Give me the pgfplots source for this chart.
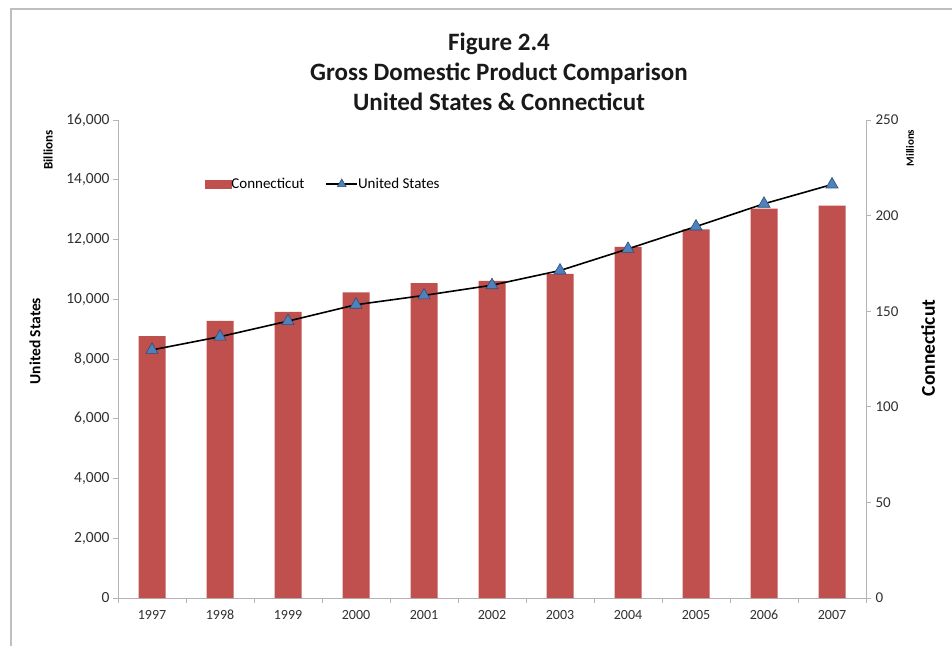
\documentclass[border=0pt]{standalone}
\usepackage{pgfplots}
\pgfplotsset{compat=1.18}
\usepackage{fontspec}
\setmainfont{Carlito}
\definecolor{ctred}{HTML}{C0504D}
\definecolor{usblue}{HTML}{4F81BD}
\definecolor{usedge}{HTML}{2C4D75}
\definecolor{axgray}{HTML}{B4B4B4}
\definecolor{txt}{HTML}{303030}

\pgfplotstableread{
x year ct
0 1997 137.0
1 1998 145.0
2 1999 149.7
3 2000 159.9
4 2001 164.7
5 2002 165.8
6 2003 169.5
7 2004 183.7
8 2005 192.8
9 2006 203.6
10 2007 205.2
}\ctdata

\pgfplotstableread{
x year us
0 1997 8304
1 1998 8747
2 1999 9268
3 2000 9817
4 2001 10128
5 2002 10470
6 2003 10961
7 2004 11686
8 2005 12434
9 2006 13195
10 2007 13841
}\usdata

\pgfplotsset{common/.style={
  scale only axis, width=748pt, height=478pt,
  at={(118pt,48pt)}, anchor=south west,
  xmin=-0.5, xmax=10.5,
  axis line style={axgray, line width=0.9pt},
  every tick/.style={axgray, line width=0.8pt},
  tick align=outside,
  major tick length=5pt, minor tick length=5pt,
  /pgf/number format/assume math mode=true,
  tick label style={text=txt},
  clip=false,
}}
\pgfplotsset{uslegend/.style={legend image code/.code={
    \draw[##1] (0pt,0pt) -- (31pt,0pt);
    \draw[##1, mark size=5pt] plot coordinates {(15.5pt,0pt)};}}}
\pgfplotsset{ctlegend/.style={legend image code/.code={
    \fill[ctred] (0pt,-4pt) rectangle (26pt,4pt);}}}

\begin{document}
\begin{tikzpicture}[x=1pt,y=1pt]
\path[use as bounding box] (0,0) rectangle (952,646);
\fill[white] (0,0) rectangle (952,646);
\draw[black!25, line width=1.5pt] (11,0) -- (11,637) -- (952,637);

\node[font=\fontsize{25}{30}\selectfont\bfseries, align=center, text=black!90] at (499,574)
  {Figure 2.4\\Gross Domestic Product Comparison\\United States \& Connecticut};

% Connecticut bars, right axis
\begin{axis}[common,
  ymin=0, ymax=250,
  axis y line*=right, axis x line*=bottom,
  ytick={0,50,...,250},
  yticklabel style={font=\fontsize{15}{18}\selectfont, xshift=1pt},
  xtick={0,...,10},
  xticklabels={1997,1998,1999,2000,2001,2002,2003,2004,2005,2006,2007},
  xticklabel style={font=\fontsize{14}{16}\selectfont, anchor=north,
    text height=10pt, text depth=0pt, yshift=-3pt},
  major x tick style={draw=none},
  minor xtick={-0.5,0.5,...,10.5},
]
\addplot[ybar, bar width=27pt, fill=ctred, draw=none] table[x=x, y=ct] {\ctdata};
\end{axis}

% United States line, left axis
\begin{axis}[common,
  ymin=0, ymax=16000,
  axis y line*=left, hide x axis,
  ytick={0,2000,...,16000},
  scaled y ticks=false,
  yticklabel style={font=\fontsize{15.5}{18}\selectfont,
    /pgf/number format/.cd, 1000 sep={,}},
  legend style={at={(0.112,0.866)}, anchor=west, draw=none, fill=none,
    legend columns=2, font=\fontsize{15}{18}\selectfont,
    /tikz/every even column/.append style={column sep=19pt},
    /tikz/every odd column/.append style={column sep=-2pt}},
  legend cell align=left,
]
\addlegendimage{ctlegend}
\addlegendentry{Connecticut}
\addplot[black, line width=1.6pt, mark=triangle*, mark size=7pt,
  mark options={fill=usblue, draw=usedge, line width=0.6pt}, uslegend
] table[x=x, y=us] {\usdata};
\addlegendentry{United States}
\end{axis}

\node[rotate=90, font=\fontsize{13}{15}\selectfont\bfseries] at (48,496) {Billions};
\node[rotate=90, font=\fontsize{15.5}{18}\selectfont\bfseries] at (35,305) {United States};
\node[rotate=90, font=\fontsize{19.5}{22}\selectfont\bfseries] at (928,298) {Connecticut};
\node[rotate=90, font=\fontsize{11}{13}\selectfont\bfseries] at (910,498) {Millions};
\end{tikzpicture}
\end{document}
